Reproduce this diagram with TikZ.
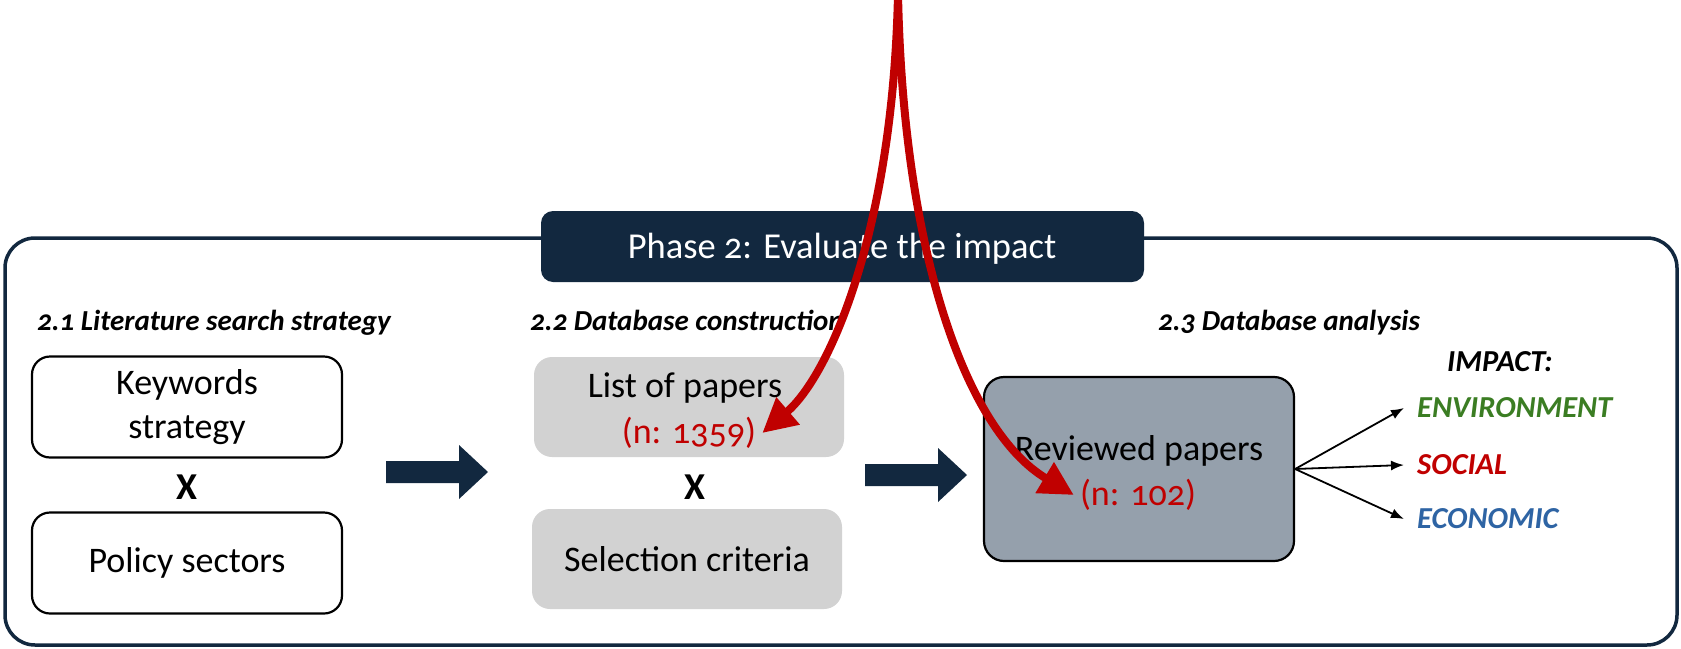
\documentclass[tikz,border=0pt]{standalone}
\usepackage{fontspec}
\setmainfont{Carlito}[Numbers=OldStyle]
\usetikzlibrary{arrows.meta}
\definecolor{navy}{HTML}{12283F}
\definecolor{lgray}{HTML}{D2D2D2}
\definecolor{slate}{HTML}{95A0AC}
\definecolor{myred}{HTML}{C00000}
\definecolor{envgreen}{HTML}{3B7D23}
\definecolor{ecoblue}{HTML}{2E64A4}
\begin{document}
\begin{tikzpicture}[x=1pt,y=-1pt,
  every node/.style={inner sep=0pt},
  fs/.style={font=\fontsize{36}{44}\selectfont, align=center},
  hd/.style={font=\fontsize{29}{34}\selectfont\bfseries\itshape, anchor=base west},
  whitebox/.style={draw=black, line width=2.2pt, fill=white, rounded corners=18pt, minimum width=310pt, minimum height=101pt},
  graybox/.style={fill=lgray, rounded corners=18pt, minimum width=310pt, minimum height=100pt},
  revbox/.style={draw=black, line width=2.2pt, fill=slate, rounded corners=20pt, minimum width=310pt, minimum height=184pt},
  cross/.style={font=\fontsize{38}{40}\selectfont\bfseries},
  blockarrow/.style={fill=navy},
  redarrow/.style={draw=myred, line width=8pt, -{Triangle[length=34pt,width=34pt]}},
  thinarrow/.style={draw=black, line width=1.8pt, -{Latex[length=13pt,width=10pt]}},
  cat/.style={font=\fontsize{30.5}{34}\selectfont\bfseries\itshape, anchor=west}
]
\useasboundingbox (0,0) rectangle (1681,648);
% outer frame
\draw[navy, line width=3.5pt, rounded corners=30pt] (5,238) rectangle (1677,645);
% title
\node[fill=navy, rounded corners=12pt, minimum width=603pt, minimum height=71pt] (title) at (842.5,246.5) {};
\node[font=\fontsize{36.5}{44}\selectfont, text=white] (titletext) at (842,249) {Phase 2: Evaluate the impact};
% headings
\node[hd] (h1) at (37,330) {2.1 Literature search strategy};
\node[hd] (h2) at (530,330) {2.2 Database construction};
\node[hd] (h3) at (1158,330) {2.3 Database analysis};
% column 1
\node[whitebox, fs] (kw) at (187,407) {Keywords\\strategy};
\node[cross] (x1) at (187,487) {X};
\node[whitebox, fs] (ps) at (187,563) {Policy sectors};
% block arrows
\fill[blockarrow] (386,461) -- (459,461) -- (459,445) -- (488,472) -- (459,499) -- (459,483) -- (386,483) -- cycle;
\begin{scope}[shift={(479,3)}]
\fill[blockarrow] (386,461) -- (459,461) -- (459,445) -- (488,472) -- (459,499) -- (459,483) -- (386,483) -- cycle;
\end{scope}
% column 2
\node[graybox] (list) at (689,407) {};
\node[fs] (listtext) at (685,388) {List of papers};
\node[fs, text=myred] (n1359) at (689,433) {(n: 1359)};
\node[cross] (x2) at (695,487) {X};
\node[graybox, fs] (sel) at (687,559) {Selection criteria};
% column 3
\node[revbox] (rev) at (1139,469) {};
\node[fs] (revtext) at (1139,451) {Reviewed papers};
\node[fs, text=myred] (n102) at (1138,495) {(n: 102)};
\node[cat] (impact) at (1447,362) {IMPACT:};
\node[cat, text=envgreen] (env) at (1417,408) {ENVIRONMENT};
\node[cat, text=myred] (soc) at (1417,465) {SOCIAL};
\node[cat, text=ecoblue] (eco) at (1417,519) {ECONOMIC};
\draw[thinarrow] (rev.east) -- ([xshift=-13pt]env.west);
\draw[thinarrow] (rev.east) -- ([xshift=-13pt]soc.west);
\draw[thinarrow] (rev.east) -- ([xshift=-13pt]eco.west);
% red curves
\coordinate (src) at (898,-6);
\draw[redarrow] (src) .. controls (893,230) and (830,375) .. ([xshift=6pt]n1359.east);
\draw[redarrow] (src) .. controls (903,250) and (965,430) .. ([xshift=-6pt]n102.west);
\end{tikzpicture}
\end{document}
